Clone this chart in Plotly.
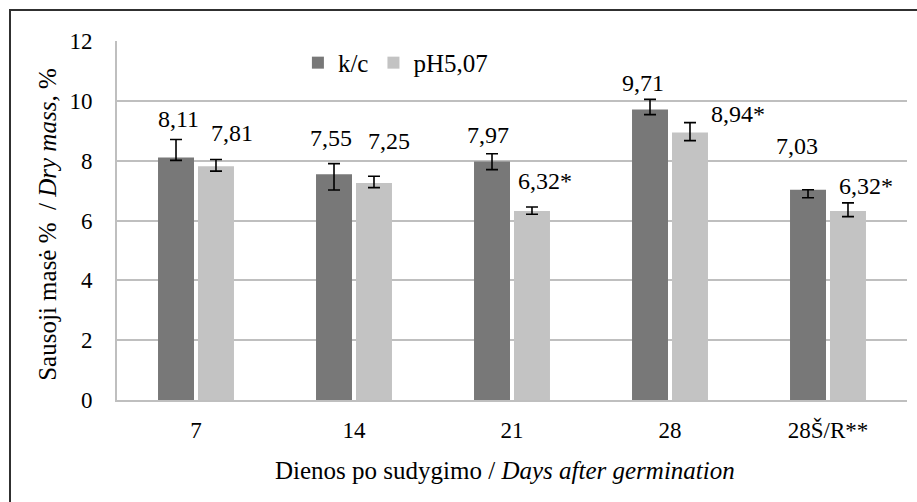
import plotly.graph_objects as go

# ---- data ----
categories = ["7", "14", "21", "28", "28Š/R**"]
kc_values = [8.11, 7.55, 7.97, 9.71, 7.03]
ph_values = [7.81, 7.25, 6.32, 8.94, 6.32]
kc_err_plus = [0.60, 0.35, 0.26, 0.34, 0.0]
kc_err_minus = [0.10, 0.53, 0.27, 0.17, 0.27]
ph_err_plus = [0.23, 0.23, 0.13, 0.33, 0.27]
ph_err_minus = [0.16, 0.15, 0.11, 0.27, 0.19]
kc_labels = ["8,11", "7,55", "7,97", "9,71", "7,03"]
ph_labels = ["7,81", "7,25", "6,32*", "8,94*", "6,32*"]
series_names = ["k/c", "pH5,07"]
y_ticks = [0, 2, 4, 6, 8, 10, 12]

# ---- style ----
FONT = "Liberation Serif"
DARK = "#787878"
LIGHT = "#c3c3c3"
GRID = "#bfbfbf"
# label offsets in px (style only)
kc_lab_dx = [-18, -23, -24, -27, -31]
kc_lab_dy = [38, 36, 27, 27, 44]
ph_lab_dx = [36, 35, 33, 68, 38]
ph_lab_dy = [33, 42, 30, 19, 25]

fig = go.Figure()
fig.add_trace(go.Bar(
    x=categories, y=kc_values, name=series_names[0],
    marker=dict(color=DARK, line=dict(width=0)),
    error_y=dict(type="data", symmetric=False, array=kc_err_plus,
                 arrayminus=kc_err_minus, color="black", thickness=1.6, width=6),
))
fig.add_trace(go.Bar(
    x=categories, y=ph_values, name=series_names[1],
    marker=dict(color=LIGHT, line=dict(width=0)),
    error_y=dict(type="data", symmetric=False, array=ph_err_plus,
                 arrayminus=ph_err_minus, color="black", thickness=1.6, width=6),
))

annotations = []
for i, c in enumerate(categories):
    # category axis: numeric x is the category's serial number
    annotations.append(dict(x=i, y=kc_values[i], text=kc_labels[i], showarrow=False,
                            xshift=kc_lab_dx[i], yshift=kc_lab_dy[i], yanchor="middle",
                            font=dict(family=FONT, size=24, color="black")))
    annotations.append(dict(x=i, y=ph_values[i], text=ph_labels[i], showarrow=False,
                            xshift=ph_lab_dx[i], yshift=ph_lab_dy[i], yanchor="middle",
                            font=dict(family=FONT, size=24, color="black")))

annotations.append(dict(xref="paper", yref="paper", x=0.491, y=-0.195,
                        text="Dienos po sudygimo / <i>Days after germination</i>",
                        showarrow=False, xanchor="center", yanchor="middle",
                        font=dict(family=FONT, size=25, color="black")))
annotations.append(dict(xref="paper", yref="paper", x=-0.089, y=0.49,
                        text="Sausoji masė %  / <i>Dry mass, </i>%", textangle=-90,
                        showarrow=False, xanchor="center", yanchor="middle",
                        font=dict(family=FONT, size=25, color="black")))

fig.update_layout(
    width=917, height=502,
    margin=dict(l=117, r=10, t=41, b=102),
    paper_bgcolor="white", plot_bgcolor="white",
    barmode="group", bargap=0.494, bargroupgap=0.1,
    font=dict(family=FONT, size=23, color="black"),
    showlegend=True,
    legend=dict(orientation="h", x=0.229, y=0.939, xanchor="left", yanchor="middle",
                font=dict(family=FONT, size=25, color="black"),
                bgcolor="rgba(0,0,0,0)", itemwidth=30,
                traceorder="normal"),
    annotations=annotations,
    shapes=[dict(type="rect", xref="paper", yref="paper",
                 x0=(10 - 117) / 790, x1=1.2, y0=-0.5, y1=1 + (41 - 10) / 359,
                 line=dict(color="#303030", width=2), fillcolor="rgba(0,0,0,0)",
                 layer="below")],
)
fig.update_xaxes(type="category", categoryorder="array", categoryarray=categories,
                 range=[-0.5, len(categories) - 0.5],
                 showgrid=False, showline=True, linecolor=GRID,
                 linewidth=2, ticks="", tickangle=0,
                 tickfont=dict(family=FONT, size=23, color="black"),
                 ticklabelstandoff=8)
fig.update_yaxes(range=[0, 12], tickvals=y_ticks, showgrid=True, gridcolor=GRID,
                 gridwidth=2, showline=True, linecolor=GRID, linewidth=2,
                 zeroline=False, ticks="",
                 tickfont=dict(family=FONT, size=23, color="black"),
                 ticklabelstandoff=18)

fig.write_html("out.html")
